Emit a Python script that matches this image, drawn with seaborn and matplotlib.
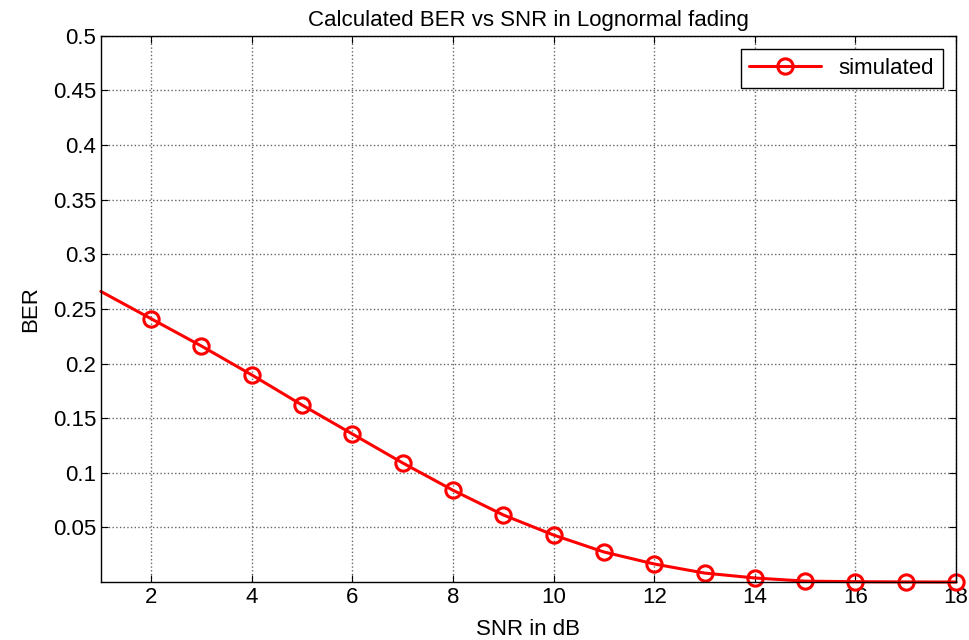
import pandas as pd
import matplotlib.pyplot as plt
import seaborn as sns

snr_db = [1, 2, 3, 4, 5, 6, 7, 8, 9, 10, 11, 12, 13, 14, 15, 16, 17, 18]
ber = [0.266, 0.241, 0.216, 0.1896, 0.162, 0.1355, 0.109, 0.084, 0.0614, 0.043,
       0.0275, 0.0165, 0.0082, 0.0037, 0.0008, 0.0003, 0.0001, 0.0]
y_ticks = [0.05, 0.1, 0.15, 0.2, 0.25, 0.3, 0.35, 0.4, 0.45, 0.5]
x_ticks = [2, 4, 6, 8, 10, 12, 14, 16, 18]

df = pd.DataFrame({"SNR": snr_db, "BER": ber})

sns.set_style("white")
plt.rcParams["font.family"] = ["Liberation Sans", "DejaVu Sans"]
plt.rcParams["text.color"] = "black"
plt.rcParams["axes.labelcolor"] = "black"
plt.rcParams["xtick.color"] = "black"
plt.rcParams["ytick.color"] = "black"

fig = plt.figure(figsize=(9.7, 6.4), dpi=100)
ax = fig.add_axes([0.104, 0.0906, 0.8816, 0.8534])

sns.lineplot(data=df, x="SNR", y="BER", ax=ax, color="red", linewidth=2.2,
             marker="o", markersize=11, markerfacecolor="none",
             markeredgecolor="red", markeredgewidth=2.2,
             markevery=slice(1, None), label="simulated", clip_on=False)

ax.set_xlim(1, 18)
ax.set_ylim(0, 0.5)
ax.set_xticks(x_ticks)
ax.set_yticks(y_ticks)
ax.set_yticklabels([f"{v:g}" for v in y_ticks])
ax.tick_params(direction="in", labelsize=16, length=5, color="black",
               top=True, right=True, bottom=True, left=True)
ax.grid(True, color="#666666", linestyle=":", linewidth=1.0)
for s in ax.spines.values():
    s.set_color("black")
    s.set_linewidth(1.0)

ax.set_title("Calculated BER vs SNR in Lognormal fading", fontsize=16, pad=7)
ax.set_xlabel("SNR in dB", fontsize=16, labelpad=8)
ax.set_ylabel("BER", fontsize=16, labelpad=8)

leg = ax.legend(loc="upper right", fontsize=16, frameon=True, fancybox=False,
                edgecolor="black", framealpha=1, handlelength=3.2,
                borderaxespad=0.6)
leg.get_frame().set_linewidth(1.0)

plt.savefig("out.png", dpi=100)
plt.close()
